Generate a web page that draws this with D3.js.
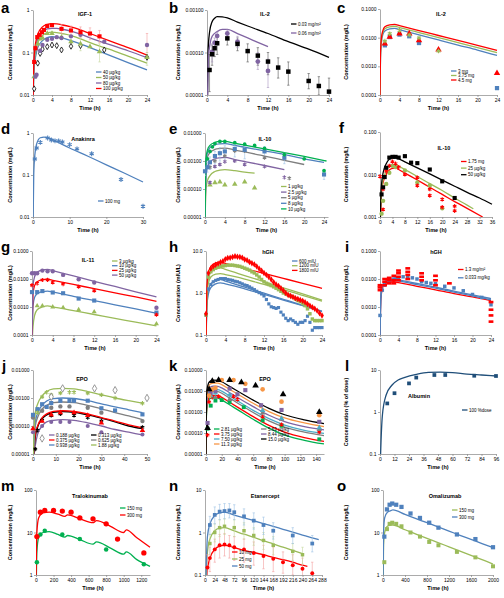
<!DOCTYPE html>
<html><head><meta charset="utf-8">
<script src="https://cdn.jsdelivr.net/npm/d3@7"></script>
<style>body{margin:0;background:#fff}svg{display:block;background:#fff}</style>
</head><body><svg id="c" width="504" height="598"></svg>
<script>
// ---------------- DATA ----------------
const BLUE="#4f81bd", GREEN="#9bbb59", PURPLE="#8064a2", RED="#ff0000", BLACK="#000000", GREY="#7f7f7f", ORANGE="#f79646", TEAL="#4bacc6", NAVY="#1f4e79";

// a: IGF-1
const aTicksX=[0,4,8,12,16,20,24];
const aTicksY=["0.01","0.1","1"];
const aLine40=[[0,0.004],[0.1,0.015],[0.3,0.05],[0.6,0.085],[1,0.13],[2,0.19],[3,0.225],[4,0.235],[5,0.23],[6,0.22],[8,0.19],[10,0.16],[12,0.13],[16,0.087],[20,0.058],[24,0.039]];
const aLine50=[[0,0.005],[0.1,0.02],[0.3,0.065],[0.6,0.11],[1,0.17],[2,0.25],[3,0.29],[4,0.3],[5,0.295],[6,0.28],[8,0.25],[10,0.21],[12,0.17],[16,0.12],[20,0.082],[24,0.056]];
const aLine80=[[0,0.006],[0.1,0.025],[0.3,0.08],[0.6,0.14],[1,0.21],[2,0.31],[3,0.36],[4,0.37],[5,0.37],[6,0.355],[8,0.32],[10,0.27],[12,0.22],[16,0.155],[20,0.11],[24,0.076]];
const aLine100=[[0,0.007],[0.1,0.03],[0.3,0.1],[0.6,0.18],[1,0.27],[2,0.4],[3,0.46],[4,0.48],[5,0.47],[6,0.45],[8,0.4],[10,0.34],[12,0.28],[16,0.19],[20,0.13],[24,0.087]];
const aObs40=[[0.25,0.014],[1,0.056],[1.5,0.095],[2,0.12],[3,0.137],[4,0.15],[5,0.145],[6,0.115],[8,0.14],[10,0.145],[15,0.115],[24,0.077]];
const aObs50=[[0.25,0.027],[1,0.16],[1.5,0.21],[2,0.22],[3,0.28],[4,0.28],[6,0.23],[8,0.18],[10,0.16],[12,0.137],[14,0.105],[24,0.077]];
const aObs80=[[0.5,0.027],[0.75,0.03],[1.5,0.11],[2,0.15],[3,0.2],[4,0.21],[5,0.23],[6,0.22],[8,0.24],[10,0.26],[15,0.18],[24,0.15]];
const aObs100=[[0.25,0.06],[0.5,0.126],[0.9,0.23],[1.4,0.26],[1.9,0.3],[2.3,0.34],[3,0.42],[4,0.44],[6,0.36],[8,0.33],[10,0.3],[12,0.28],[14,0.24]];
const aErr100=[[6,0.36,0.28,0.46],[8,0.33,0.25,0.42],[10,0.3,0.22,0.4],[12,0.28,0.2,0.38],[14,0.24,0.17,0.33],[24,0.15,0.1,0.28]];
const aErr50=[[10,0.16,0.11,0.22],[14,0.105,0.06,0.16],[24,0.077,0.05,0.1]];

// b: IL-2
const bTicksX=[0,4,8,12,16,20,24];
const bTicksY=["0.00001","0.00010","0.00100"];
const bLine003=[[0,0.000001],[0.2,0.0001],[0.5,0.0003],[1,0.00053],[1.5,0.00064],[2,0.0007],[3,0.00069],[4,0.00065],[6,0.00052],[8,0.00042],[12,0.00028],[16,0.00018],[20,0.00012],[24,0.000077]];
const bLine006=[[0,0.000001],[0.3,0.00008],[0.6,0.00016],[1,0.00024],[2,0.00031],[3,0.00035],[4,0.00035],[6,0.000277],[8,0.00022],[10,0.000173],[12,0.000137]];
const bObs003=[[0.5,0.0000388,0.000012,0.00009],[1,0.000091,0.00005,0.00015],[1.5,0.000126,0.00008,0.00018],[2,0.000165,0.00009,0.00025],[4,0.000215,0.00015,0.00029],[6,0.000159,0.00011,0.00022],[8,0.000108,0.00006,0.00016],[10,0.0000845,0.00005,0.00013],[12,0.0000612,0.00003,0.0001],[14,0.0000442,0.000025,0.000075],[16,0.0000355,0.000017,0.00006],[20,0.0000214,0.000014,0.000032],[22,0.0000163,0.00001,0.000027],[24,0.000012,0.000008,0.000025]];
const bObs006=[[1,0.000104,0.00006,0.00016],[1.5,0.00017,0.00012,0.00022],[2,0.000245,0.00018,0.0003],[4,0.00028,0.00022,0.00034],[6,0.00018,0.00013,0.00024],[10,0.0000612,0.00004,0.0001],[12,0.0000368,0.000015,0.00007]];

// c: IL-2
const cTicksX=[0,4,8,12,16,20,24];
const cTicksY=["0.0001","0.0010","0.0100","0.1000"];
const cLine3=[[0,0.0001],[0.1,0.002],[0.3,0.007],[0.6,0.013],[1,0.017],[2,0.0202],[3,0.021],[4,0.019],[6,0.0154],[8,0.0126],[12,0.0083],[16,0.0055],[20,0.0037],[24,0.0024]];
const cLine375=[[0,0.0001],[0.1,0.0025],[0.3,0.0085],[0.6,0.0155],[1,0.0205],[2,0.024],[3,0.025],[4,0.0226],[6,0.0185],[8,0.0151],[12,0.0101],[16,0.0067],[20,0.0045],[24,0.003]];
const cLine45=[[0,0.0001],[0.1,0.003],[0.3,0.01],[0.6,0.018],[1,0.024],[2,0.028],[3,0.029],[4,0.0263],[6,0.0216],[8,0.0177],[12,0.0119],[16,0.008],[20,0.0054],[24,0.0036]];
const cObs3=[[1,0.0054],[2,0.0105],[4,0.0128],[6,0.0112],[8,0.0065],[24,0.000174]];
const cObs375=[[1,0.0076],[2,0.0138],[4,0.018],[6,0.0125],[8,0.0098],[12,0.0034]];
const cObs45=[[1,0.0062],[2,0.0106],[4,0.0139],[6,0.0139],[8,0.008],[12,0.0038],[24,0.00058]];

// d: Anakinra
const dTicksX=[0,10,20,30];
const dTicksY=["0.01","0.1","1"];
const dLine100=[[0,0.005],[0.2,0.1],[0.5,0.3],[1,0.55],[2,0.77],[3,0.8],[4,0.78],[6,0.65],[10,0.44],[15,0.28],[20,0.175],[25,0.11],[30,0.068]];
const dObs100=[[0.5,0.24],[1,0.44],[2,0.6],[4,0.76],[5,0.68],[6,0.65],[7,0.65],[8,0.61],[10,0.53],[12,0.42],[16,0.32],[24,0.078],[30,0.018]];

// e: IL-10
const eTicksX=[0,4,8,12,16,20,24];
const eTicksY=["0.00001","0.00010","0.00100","0.01000"];
const eLine1=[[0,0.000005],[0.2,0.0001],[0.5,0.0002],[1,0.0003],[2,0.00042],[3,0.00047],[4,0.00049],[6,0.00045],[8,0.0004],[10,0.00037]];
const eLine25=[[0,0.000005],[0.2,0.0003],[0.5,0.0006],[1,0.0009],[2,0.0012],[3,0.0013],[4,0.00134],[6,0.00113],[8,0.00096],[12,0.00069],[16,0.00049]];
const eLine5=[[0,0.000005],[0.2,0.0007],[0.5,0.0014],[1,0.002],[2,0.0026],[3,0.0028],[4,0.0029],[6,0.00245],[8,0.0021],[12,0.0015],[16,0.00106],[20,0.00075]];
const eLine8=[[0,0.000005],[0.2,0.001],[0.5,0.002],[1,0.003],[2,0.0038],[3,0.0041],[4,0.0042],[6,0.0036],[8,0.0031],[12,0.0023],[16,0.0017],[20,0.0012],[24,0.00089]];
const eLine10=[[0,0.000005],[0.2,0.0012],[0.5,0.0025],[1,0.0036],[2,0.0046],[3,0.005],[4,0.005],[6,0.0043],[8,0.0037],[12,0.0027],[16,0.002],[20,0.00145],[24.5,0.001]];
const eObs1=[[1,0.00014],[2,0.00017],[3,0.00018],[4,0.00014],[6,0.00015],[8,0.00018],[10,0.00011]];
const eObs25=[[1,0.00017],[2,0.00064],[3,0.00075],[4,0.00095],[6,0.001],[8,0.00075],[12,0.00063],[16,0.00026]];
const eObs5=[[1,0.0006],[2,0.001],[4,0.0015],[6,0.0023],[8,0.0023],[12,0.0013],[17,0.00024]];
const eObs8=[[0,0.00043,0.0003,0.0006],[0.5,0.0006,0.0004,0.0009],[1,0.0009,0.0005,0.0014],[2,0.0015,0.0008,0.0022],[3,0.0019,0.001,0.003],[4,0.0022,0.0012,0.0035],[6,0.0027,0.0014,0.004],[8,0.0025,0.0012,0.0038],[12,0.0022,0.0013,0.0033],[16,0.0013,0.0008,0.0019],[24,0.00033,0.00022,0.00045]];
const eObs10=[[0.5,0.0012],[1,0.0022],[1.5,0.0032],[2,0.0042],[3,0.005],[4,0.005],[6,0.0045],[8,0.004],[10,0.0036],[12,0.0028],[16,0.0017],[20,0.0012],[24,0.00045]];

// f: IL-10
const fTicksX=[0,4,8,12,16,20,24,28,32,36];
const fTicksY=["0.001","0.010","0.100"];
const fLine175=[[0,0.0005],[0.3,0.002],[0.6,0.0045],[1,0.0065],[2,0.01],[3,0.0128],[4,0.014],[5,0.0143],[6,0.0131],[8,0.0108],[12,0.0074],[16,0.005],[20,0.0034],[24,0.0023],[28,0.0016],[33,0.001]];
const fLine25=[[0,0.0005],[0.3,0.0025],[0.6,0.005],[1,0.0075],[2,0.012],[3,0.0155],[4,0.017],[5,0.0174],[6,0.0158],[8,0.0131],[12,0.009],[16,0.0061],[20,0.0042],[24,0.0028],[28,0.0019],[30,0.00156]];
const fLine50=[[0,0.0005],[0.3,0.0035],[0.6,0.007],[1,0.011],[2,0.018],[3,0.023],[4,0.0252],[5,0.0256],[6,0.0235],[8,0.0199],[12,0.0143],[16,0.0103],[20,0.0074],[24,0.0053],[28,0.0038],[32,0.0028],[36,0.002]];
const fObs175=[[0,0.009],[1,0.0015],[1,0.0045],[2,0.012],[3,0.016],[4,0.02],[5,0.018],[6,0.015],[8,0.01],[12,0.0085],[12,0.0055],[16,0.0045],[16,0.0032],[20,0.0026],[20,0.0017],[24,0.0018],[24,0.0014]];
const fObs25=[[0.5,0.0012],[1,0.0024],[2,0.006],[3,0.011],[4,0.016],[5,0.015],[8,0.0125],[12,0.0065],[16,0.0055],[20,0.0016]];
const fObs50=[[0.5,0.0034],[1,0.005],[1.5,0.0087],[2,0.0144],[3,0.025],[4,0.026],[5,0.026],[6,0.025],[8,0.027],[10,0.019],[12,0.0185],[16,0.0131],[20,0.0069],[24,0.0028]];

// g: IL-11
const gTicksX=[0,4,8,12,16,20,24];
const gTicksY=["0.0001","0.0010","0.0100","0.1000"];
const gLine3=[[0,0.00005],[0.2,0.0002],[0.5,0.0005],[1,0.0008],[2,0.001],[3,0.0011],[4,0.00101],[6,0.00087],[8,0.00074],[12,0.00054],[16,0.00039],[20,0.00029],[24,0.00021]];
const gLine10=[[0,0.00005],[0.2,0.0011],[0.5,0.0022],[1,0.003],[2,0.0035],[3,0.0037],[4,0.0034],[6,0.0029],[8,0.0024],[12,0.0017],[16,0.0012],[20,0.00085],[24,0.0006]];
const gLine25=[[0,0.00005],[0.2,0.003],[0.5,0.0058],[1,0.008],[2,0.0095],[3,0.0099],[4,0.009],[6,0.0076],[8,0.0064],[12,0.0045],[16,0.0032],[20,0.0023],[24,0.0016]];
const gLine50=[[0,0.00005],[0.2,0.006],[0.5,0.012],[1,0.017],[2,0.021],[3,0.022],[4,0.0198],[6,0.016],[8,0.0129],[12,0.0083],[16,0.0054],[20,0.0035],[24,0.0023]];
const gObs3=[[1,0.0011],[2,0.0011],[4,0.001],[6,0.00095],[9,0.0008],[12,0.00067],[24,0.00025]];
const gObs10=[[0,0.0034],[1,0.0034],[2,0.0037],[4,0.0033],[6,0.0031],[9,0.002],[12,0.0017],[24,0.00063]];
const gObs25=[[0,0.006],[1,0.007],[2,0.0092],[3,0.0093],[4,0.0075],[6,0.0066],[9,0.0053],[12,0.0038],[24,0.00053]];
const gObs50=[[0,0.016],[0.5,0.016],[1,0.016],[2,0.02],[3,0.019],[4,0.019],[6,0.014],[9,0.0098],[12,0.0075],[24,0.00094]];

// h: hGH (mIU/L)
const hTicksX=[0,4,8,12,16,20,24];
const hTicksY=["0.1","1.0","10.0"];
const hLine600a=[[0,0.05],[0.2,0.7],[0.5,1.2],[1,1.65],[2,2.0],[3,2.1],[4,1.93],[6,1.63],[8,1.38],[12,0.99],[16,0.71],[20,0.51],[24,0.37]];
const hLine600b=[[0,0.05],[0.2,0.5],[0.5,0.95],[1,1.35],[2,1.65],[3,1.75],[4,1.65],[6,1.45],[8,1.25],[12,0.93],[16,0.68],[20,0.5],[24,0.36]];
const hLine1200a=[[0,0.05],[0.2,1.1],[0.5,2.2],[1,3.1],[2,3.8],[3,3.97],[4,3.65],[6,3.08],[8,2.6],[12,1.86],[16,1.33],[20,0.95],[24,0.68]];
const hLine1200b=[[0,0.05],[0.2,0.9],[0.5,1.7],[1,2.4],[2,2.8],[3,2.9],[4,2.75],[6,2.45],[8,2.15],[12,1.6],[16,1.2],[20,0.88],[24,0.64]];
const hLine1800=[[0,0.05],[0.2,1.5],[0.5,3],[1,4.3],[2,5.2],[3,5.4],[4,5.04],[6,4.4],[8,3.83],[12,2.92],[16,2.23],[20,1.7],[24,1.29]];
const hTimes=[0,0.5,1,1.5,2,2.5,3,3.5,4,4.5,5,5.5,6,6.5,7,7.5,8,8.5,9,9.5,10,10.5,11,11.5,12,12.5,13,13.5,14,14.5,15,15.5,16,16.5,17,17.5,18,18.5,19,19.5,20,20.5,21,21.5,22,22.5,23,23.5,24];
const hObs600=[0.3,1.25,1.6,1.85,2.0,2.1,2.2,2.2,2.2,2.1,2.05,2.0,1.9,1.85,1.75,1.65,1.55,1.5,1.4,1.3,1.2,1.1,1.02,0.95,0.85,0.7,0.55,0.47,0.45,0.43,0.45,0.35,0.3,0.25,0.22,0.24,0.22,0.2,0.18,0.2,0.2,0.22,0.28,0.2,0.13,0.15,0.15,0.15,0.15];
const hObs1200=[0.3,2.4,3.2,3.6,3.9,4.1,4.3,4.4,4.5,4.6,4.6,4.6,4.5,4.4,4.3,4.1,3.9,3.7,3.5,3.2,3.0,2.7,2.4,2.1,1.85,1.7,1.6,1.5,1.4,1.3,1.2,1.1,1.0,0.95,0.9,0.85,0.8,0.72,0.66,0.62,0.56,0.5,0.42,0.32,0.24,0.22,0.22,0.22,0.22];
const hObs1800=[0.32,3.0,3.8,4.3,4.7,5.0,5.4,5.7,6.4,6.8,6.9,7.2,7.5,7.3,7.2,6.9,6.3,6.0,5.5,5.1,4.8,4.3,3.8,3.4,3.0,2.7,2.4,2.1,1.8,1.6,1.46,1.3,1.15,1.0,0.9,0.85,0.8,0.75,0.72,0.68,0.65,0.6,0.55,0.5,0.46,0.42,0.38,0.33,0.29];

// i: hGH (mg/L)
const iTicksX=[0,4,8,12,16,20,24];
const iTicksY=["0.0001","0.0010","0.0100","0.1000"];
const iLine13=[[0,0.0001],[0.2,0.002],[0.5,0.0045],[1,0.0065],[2,0.0078],[3,0.008],[4,0.0074],[6,0.0064],[8,0.0055],[12,0.0041],[16,0.003],[20,0.0023],[24,0.0017]];
const iLine033a=[[0,0.0001],[0.2,0.0025],[0.5,0.0055],[1,0.008],[2,0.0097],[3,0.01],[4,0.0093],[6,0.008],[8,0.0069],[12,0.0051],[16,0.0037],[20,0.0027],[24,0.002]];
const iLine033b=[[0,0.0001],[0.2,0.0022],[0.5,0.005],[1,0.0073],[2,0.0088],[3,0.0091],[4,0.0085],[6,0.0074],[8,0.0063],[12,0.0047],[16,0.0034],[20,0.0025],[24,0.0018]];
const iObs13=[[0,0.004],[0,0.005],[0,0.006],[1,0.006],[1,0.008],[1,0.01],[2,0.007],[2,0.009],[2,0.011],[3,0.007],[3,0.009],[3,0.013],[4,0.009],[4,0.012],[4,0.016],[4,0.02],[6,0.01],[6,0.014],[6,0.018],[6,0.024],[9,0.009],[9,0.012],[9,0.016],[12,0.006],[12,0.009],[12,0.013],[15,0.007],[24,0.0003],[24,0.0005],[24,0.0008],[24,0.0015]];
const iObs033=[[0,0.0005],[0.5,0.004],[1,0.006],[2,0.009],[3,0.01],[3.5,0.011],[4,0.011],[5,0.012],[6,0.012],[7,0.011],[8,0.01],[9,0.008],[10,0.0075],[11,0.007],[12,0.0068],[14,0.0055],[16,0.0048],[18,0.0038],[20,0.0028],[22,0.0022],[24,0.0012]];

// j: EPO (1)
const jTicksX=[0,10,20,30,40,50];
const jTicksY=["0.00001","0.00010","0.00100","0.01000"];
const jLine0188=[[0,0.000005],[1,0.00002],[2,0.00005],[4,0.0001],[6,0.00014],[9,0.00016],[13,0.00017],[18,0.00016],[24,0.00013],[30,0.0001],[36,0.000075],[42,0.00006],[48,0.000048]];
const jLine0313=[[0,0.000005],[1,0.00004],[2,0.00009],[4,0.00018],[6,0.00025],[9,0.00031],[13,0.00033],[18,0.00031],[24,0.00025],[30,0.00019],[36,0.00014],[42,0.0001],[48,0.00008]];
const jLine0375=[[0,0.000005],[1,0.00005],[2,0.0001],[4,0.0002],[6,0.00027],[9,0.00033],[13,0.00035],[18,0.00033],[24,0.00027],[30,0.0002],[36,0.00015],[42,0.00011],[48,0.000086]];
const jLine0625=[[0,0.000005],[1,0.0001],[2,0.0002],[4,0.0004],[6,0.00055],[9,0.00068],[13,0.00072],[18,0.00068],[24,0.00055],[30,0.00041],[36,0.0003],[42,0.00023],[48,0.00017]];
const jLine0938=[[0,0.000005],[1,0.00014],[2,0.00028],[4,0.00055],[6,0.00078],[9,0.00095],[13,0.001],[18,0.00096],[24,0.0008],[30,0.00062],[36,0.00048],[42,0.00038],[48,0.0003]];
const jLine188=[[0,0.000005],[1,0.0003],[2,0.0006],[4,0.0012],[6,0.0017],[9,0.0021],[13,0.0022],[18,0.0021],[24,0.0017],[30,0.0013],[36,0.001],[42,0.0008],[48,0.00065]];
const jObs0188=[[0,0.00006],[4,0.0001],[8,0.00014],[12,0.00014],[16,0.00014],[24,0.0001],[30,0.00006],[48,0.00005]];
const jObs0313=[[1,0.000015],[2,0.00007],[4,0.00016],[8,0.00024],[12,0.00027],[18,0.00024],[24,0.0002],[30,0.00015],[48,0.00009]];
const jObs0375=[[0,0.00008],[4,0.00015],[8,0.00025],[12,0.0003],[18,0.0003],[24,0.00024],[30,0.00013],[48,0.00007]];
const jObs0625=[[0,0.0002],[4,0.00035],[8,0.00045],[12,0.0005],[16,0.0005],[24,0.00045],[30,0.0003],[48,0.00015]];
const jObs0938=[[0,0.00025],[2,0.0004],[4,0.0006],[6,0.00048],[8,0.00066],[12,0.0008],[16,0.0008],[18,0.0008],[24,0.0008],[30,0.00043],[36,0.00036],[48,0.00026]];
const jObs188=[[2,0.0003],[4,0.0011],[6,0.0016],[8,0.0013],[12,0.0015],[16,0.0016],[18,0.0016],[24,0.0015],[30,0.0013],[36,0.001],[48,0.00065]];
const jObsAlt=[[4,0.000036],[8,0.0011],[13,0.0022],[27,0.0022],[36,0.0019],[50,0.001]];

// k: EPO (2)
const kTicksX=[0,20,40,60,80,100,120,140];
const kTicksY=["0.00001","0.00010","0.00100","0.01000","0.10000"];
const kLine281=[[0,0.000002],[0.5,0.0006],[2,0.0024],[5,0.0043],[10,0.0048],[15,0.0046],[20,0.0038],[30,0.0022],[40,0.0013],[60,0.00045],[80,0.00017],[100,0.00008],[125,0.000045],[150,0.00003]];
const kLine375=[[0,0.000002],[0.5,0.0008],[2,0.0031],[5,0.0055],[10,0.0062],[15,0.006],[20,0.005],[30,0.0029],[40,0.0017],[60,0.0006],[80,0.00023],[100,0.00011],[125,0.00006],[150,0.00004]];
const kLine563=[[0,0.000002],[0.5,0.0012],[2,0.0047],[5,0.0085],[10,0.0095],[15,0.0093],[20,0.0078],[30,0.0046],[40,0.0027],[60,0.00095],[80,0.00038],[100,0.00019],[125,0.00011],[150,0.000075]];
const kLine750=[[0,0.000002],[0.5,0.0015],[2,0.006],[5,0.0107],[10,0.012],[15,0.0117],[20,0.0099],[30,0.0058],[40,0.0034],[60,0.0012],[80,0.00048],[100,0.00024],[125,0.000135],[150,0.000095]];
const kLine844=[[0,0.000002],[0.5,0.0021],[2,0.0085],[5,0.015],[10,0.017],[15,0.0165],[20,0.014],[30,0.0083],[40,0.0049],[60,0.0018],[80,0.0007],[100,0.00035],[125,0.0002],[150,0.00014]];
const kLine113=[[0,0.000002],[0.5,0.003],[2,0.012],[5,0.021],[10,0.024],[15,0.0235],[20,0.02],[30,0.012],[40,0.0072],[60,0.0026],[80,0.00105],[100,0.00052],[125,0.0003],[150,0.0002]];
const kLine150=[[0,0.000002],[0.5,0.0042],[2,0.0165],[5,0.029],[10,0.033],[15,0.032],[20,0.0275],[30,0.0165],[40,0.01],[60,0.0037],[80,0.0015],[100,0.00074],[125,0.00042],[150,0.00028]];
const kObs281=[[2,0.00016],[6,0.002],[12,0.0035],[20,0.0037],[30,0.003],[48,0.0017],[72,0.0004],[96,0.00022],[144,0.00005]];
const kObs375=[[2,0.00008],[4,0.003],[8,0.005],[16,0.0055],[35,0.0055],[40,0.004],[72,0.0006],[96,0.00025],[144,0.00011]];
const kObs563=[[12,0.005],[30,0.004],[72,0.0009],[96,0.00045],[144,0.00015]];
const kObs750=[[6,0.006],[12,0.008],[30,0.0065],[72,0.0012],[96,0.0005],[144,0.00018]];
const kObs844=[[2,0.0003],[6,0.008],[12,0.01],[30,0.013],[40,0.007],[50,0.011],[70,0.0021],[96,0.00125],[144,0.00034]];
const kObs113=[[4,0.006],[8,0.012],[12,0.014],[20,0.033],[35,0.033],[50,0.022],[72,0.012],[96,0.0031],[144,0.0007]];
const kObs150=[[2,0.00017],[4,0.012],[8,0.03],[16,0.033],[30,0.033],[45,0.026],[63,0.018],[98,0.0069],[144,0.001]];

// l: Albumin
const lTicksX=[0,12,24,36,48,60,72,84,96];
const lTicksY=["0.1","1","10"];
const lLine100=[[0,0.03],[0.5,0.1],[2,0.85],[5,2.5],[10,4.4],[15,5.8],[20,6.6],[30,7.9],[40,8.8],[50,8.9],[60,8.7],[72,8.0],[84,7.6],[96,7.2]];
const lObs100=[[6,1.6],[12,2.8],[24,4.8],[30,6.6],[45,7.6],[54,7.6],[78,7.3],[96,7.2]];

// m: Tralokinumab
const mTicksX=[0,200,400,600,800,1000,1200];
const mTicksY=["1","10","100"];
const mLine150=[[0,0.2],[10,3.5],[30,7.5],[80,10],[150,10.5],[250,9],[330,7.8],[360,8.5],[500,6.8],[650,5.3],[690,6],[850,4.3],[1000,3.1],[1030,3.5],[1150,2.3],[1300,1.6]];
const mLine300=[[0,0.5],[10,10],[30,22],[80,29],[150,30],[250,27],[330,24],[360,26],[500,21],[650,17],[690,19],[850,14],[1000,10],[1030,11.5],[1150,7.5],[1300,4.5]];
const mObs150=[[10,2],[50,9],[100,11],[300,9],[500,7],[800,4],[1230,1.8]];
const mObs300=[[10,8],[50,30],[100,33],[200,33],[300,32],[400,30],[500,22],[650,21],[800,16],[930,7],[1230,3.3]];

// n: Etanercept
const nTicksX=[0,24,48,72,96,120,144,168,192,216,240,264,288];
const nTicksY=["0.1","1","10"];
const nLine10=[[0,0.01],[6,0.13],[12,0.25],[24,0.4],[36,0.48],[48,0.5],[72,0.44],[96,0.38],[120,0.34],[144,0.3],[168,0.26],[192,0.23],[216,0.2],[240,0.17],[252,0.16]];
const nLine25=[[0,0.01],[6,0.35],[12,0.7],[24,1.1],[36,1.27],[48,1.3],[72,1.09],[96,0.91],[120,0.77],[144,0.64],[168,0.54],[192,0.45],[216,0.38],[240,0.32]];
const nLine50=[[0,0.01],[6,0.8],[12,1.6],[24,2.5],[36,2.9],[48,3.0],[72,2.57],[96,2.2],[120,1.9],[144,1.62],[168,1.39],[192,1.19],[216,1.02],[240,0.87],[264,0.75],[280,0.68]];
const nObs10=[[6,0.15,0.08,0.3],[12,0.25,0.12,0.45],[24,0.4,0.2,0.7],[36,0.5,0.25,0.9],[48,0.52,0.28,0.95],[60,0.5,0.25,0.85],[72,0.45,0.22,0.8],[96,0.4,0.2,0.7],[120,0.33,0.17,0.6],[144,0.28,0.14,0.5],[168,0.24,0.12,0.45],[192,0.2,0.11,0.35],[216,0.17,0.1,0.3],[240,0.14,0.09,0.25],[264,0.11,0.07,0.2]];
const nObs25=[[12,0.55,0.3,0.9],[24,1.0,0.6,1.6],[36,1.3,0.8,2.0],[48,1.4,0.9,2.1],[72,1.3,0.8,2.0],[96,1.1,0.7,1.7],[120,0.85,0.5,1.3],[144,0.65,0.4,1.0],[168,0.5,0.3,0.8],[216,0.36,0.22,0.55],[240,0.3,0.18,0.45]];
const nObs50=[[12,1.5,0.9,2.4],[24,2.6,1.6,4.0],[36,3.1,2.0,4.6],[48,3.2,2.1,4.8],[60,3.3,2.2,4.8],[72,3.0,2.0,4.5],[96,2.4,1.5,3.6],[120,1.9,1.2,2.9],[144,1.5,0.9,2.3],[168,1.1,0.7,1.7],[216,0.85,0.55,1.3],[264,0.55,0.35,0.85]];

// o: Omalizumab
const oTicksX=[0,400,800,1200,1600,2000];
const oTicksY=["1","10","100"];
const oLine150=[[0,0.3],[10,5],[30,10],[80,14],[150,15],[180,15],[400,11.6],[600,9.2],[800,7.3],[1000,5.8],[1200,4.6],[1400,3.65],[1600,2.9],[1800,2.3],[2000,1.8]];
const oLine300=[[0,0.5],[10,10],[30,22],[80,30],[150,33],[180,34],[400,26.6],[600,21.2],[800,17],[1000,13.5],[1200,10.8],[1400,8.6],[1600,6.9],[1800,5.5],[2000,4.4]];
const oObs150=[[24,2],[72,12],[120,16],[168,17],[240,16],[336,14],[500,10],[672,8],[840,6],[1008,5],[1344,3.5],[1680,2.6],[2000,1.6]];
const oObs300=[[24,8],[72,35],[120,45],[168,48],[240,45],[336,40],[500,28],[672,22],[840,17],[1008,13],[1344,9],[1680,7],[2000,4.5]];

// ---------------- DRAWING ----------------
const FONT="'Liberation Sans', Arial, Helvetica, sans-serif";
const svg=d3.select("#c");
const ASTER = d3.symbolAsterisk || d3.symbolCross;

function markerPath(shape,size){
  const m={square:d3.symbolSquare,circle:d3.symbolCircle,triangle:d3.symbolTriangle,diamond:d3.symbolDiamond,odiamond:d3.symbolDiamond,star:ASTER,cross:d3.symbolCross,rect:d3.symbolSquare};
  return d3.symbol(m[shape]||d3.symbolCircle,size)();
}

const C="Concentration (mg/L)";
const panels=[
 {id:"a",ox:0,lx:1,ly:13,L:33,R:147,T:10,B:95,xMax:24,xt:aTicksX,yt:aTicksY,title:"IGF-1",tx:85,ty:16,yl:C,
  lines:[[aLine40,BLUE],[aLine50,GREEN],[aLine80,PURPLE],[aLine100,RED]],
  errs:[[aErr100,"#f4a0a0"],[aErr50,"#c6d9a0"]],
  pts:[[aObs40,"#fff","odiamond",10,"#000"],[aObs50,GREEN,"triangle",13],[aObs80,PURPLE,"circle",15],[aObs100,RED,"square",17]],
  leg:{x:[96],y:72,dy:5.5,items:[["40 µg/kg",BLUE],["50 µg/kg",GREEN],["80 µg/kg",PURPLE],["100 µg/kg",RED]]}},
 {id:"b",ox:168,lx:169,ly:13,L:207,R:329,T:10,B:95,xMax:24,xt:bTicksX,yt:bTicksY,title:"IL-2",tx:265,ty:16,yl:C,
  lines:[[bLine003,BLACK],[bLine006,PURPLE]],
  errs:[[bObs003,"#555"],[bObs006,"#a896c0"]],
  pts:[[bObs006,PURPLE,"circle",18],[bObs003,BLACK,"square",20]],
  leg:{x:[291],y:24,dy:9,items:[["0.03 mg/m²",BLACK],["0.06 mg/m²",PURPLE]]}},
 {id:"c",ox:336,lx:337,ly:13,L:380,R:497,T:9,B:95,xMax:24,xt:cTicksX,yt:cTicksY,title:"IL-2",tx:441,ty:16,yl:C,
  lines:[[cLine3,BLUE],[cLine375,GREEN],[cLine45,RED]],errs:[],
  pts:[[cObs3,BLUE,"square",18],[cObs45,RED,"triangle",18],[cObs375,GREEN,"star",14]],
  leg:{x:[451],y:71,dy:4.5,items:[["3 mg",BLUE],["3.75 mg",GREEN],["4.5 mg",RED]]}},
 {id:"d",ox:0,lx:1,L:33,R:143,T:133,B:217,xMax:30,xt:dTicksX,yt:dTicksY,title:"Anakinra",tx:83,ty:141,yl:C,
  lines:[[dLine100,BLUE]],errs:[],
  pts:[[dObs100,BLUE,"star",16]],
  leg:{x:[98],y:201,dy:5,items:[["100 mg",BLUE]]}},
 {id:"e",ox:168,lx:169,L:205,R:328,T:133,B:217,xMax:24.8,xt:eTicksX,yt:eTicksY,title:"IL-10",tx:265,ty:141,yl:C,
  lines:[[eLine1,GREEN],[eLine25,PURPLE],[eLine5,GREY],[eLine8,BLUE],[eLine10,"#00b050"]],
  errs:[[eObs8,"#9dc3e6"]],
  pts:[[eObs1,GREEN,"triangle",13],[eObs25,PURPLE,"star",11],[eObs5,GREY,"star",11],[eObs8,BLUE,"square",17],[eObs10,"#00b050","circle",11]],
  leg:{x:[281],y:186.5,dy:5.6,items:[["1 µg/kg",GREEN],["2.5 µg/kg",PURPLE],["5 µg/kg",GREY],["8 µg/kg",BLUE],["10 µg/kg","#00b050"]]}},
 {id:"f",ox:336,lx:339,L:380,R:492,T:132,B:217,xMax:36,xt:fTicksX,yt:fTicksY,title:"IL-10",tx:444,ty:150,yl:C,
  lines:[[fLine175,RED],[fLine25,GREEN],[fLine50,BLACK]],errs:[],
  pts:[[fObs25,GREEN,"circle",15],[fObs175,RED,"star",12],[fObs50,BLACK,"square",17]],
  leg:{x:[461],y:161.5,dy:6.6,items:[["1.75 mg",RED],["25 µg/kg",GREEN],["50 µg/kg",BLACK]]}},
 {id:"g",ox:0,lx:1,L:32,R:158,T:251,B:335,xMax:24.3,xt:gTicksX,yt:gTicksY,title:"IL-11",tx:88,ty:262,yl:C,
  lines:[[gLine3,GREEN],[gLine10,BLUE],[gLine25,RED],[gLine50,PURPLE]],errs:[],
  pts:[[gObs3,GREEN,"triangle",11],[gObs10,BLUE,"square",17],[gObs25,RED,"star",12],[gObs50,PURPLE,"circle",15]],
  leg:{x:[112],y:261,dy:4.7,items:[["3 µg/kg",GREEN],["10 µg/kg",BLUE],["25 µg/kg",RED],["50 µg/kg",PURPLE]]}},
 {id:"h",ox:168,lx:169,L:206,R:322,T:251,B:335,xMax:24,xt:hTicksX,yt:hTicksY,title:"hGH",tx:268,ty:254,yl:"Concentration (mIU/L)",
  lines:[[hLine600a,BLUE],[hLine600b,BLUE],[hLine1200a,GREEN],[hLine1200b,GREEN],[hLine1800,RED]],errs:[],
  pts:[[hTimes.map((t,i)=>[t,hObs600[i]]),BLUE,"square",10],[hTimes.map((t,i)=>[t,hObs1200[i]]),GREEN,"square",12],[hTimes.map((t,i)=>[t,hObs1800[i]]),RED,"diamond",12]],
  leg:{x:[292],y:261,dy:4.7,items:[["600 mIU",BLUE],["1200 mIU",GREEN],["1800 mIU",RED]]}},
 {id:"i",ox:336,lx:345,L:380,R:491,T:251,B:335,xMax:24,xt:iTicksX,yt:iTicksY,title:"hGH",tx:436,ty:254,yl:C,
  lines:[[iLine13,RED],[iLine033a,BLUE],[iLine033b,BLUE]],errs:[],
  pts:[[iObs033,BLUE,"square",12],[iObs13,RED,"rect",14]],
  leg:{x:[458],y:269.5,dy:8.3,items:[["1.3 mg/m²",RED],["0.033 mg/kg",BLUE]]}},
 {id:"j",ox:0,lx:2,L:33,R:147,T:370,B:454,xMax:50,xt:jTicksX,yt:jTicksY,title:"EPO",tx:82,ty:381,yl:C,
  lines:[[jLine0188,PURPLE],[jLine0313,BLACK],[jLine0375,RED],[jLine0625,GREY],[jLine0938,BLUE],[jLine188,GREEN]],errs:[],
  pts:[[jObs0188,PURPLE,"circle",13],[jObs0313,BLACK,"star",12],[jObs0375,RED,"triangle",13],[jObs0625,GREY,"circle",15],[jObs0938,BLUE,"square",17],[jObs188,GREEN,"star",13],[jObsAlt,"#fff","odiamond",16,GREY]],
  leg:{x:[49,91],y:435,dy:5,items:[["0.188 µg/kg",PURPLE,0,0],["0.313 µg/kg",BLACK,1,0],["0.375 µg/kg",RED,0,1],["0.625 µg/kg",GREY,1,1],["0.938 µg/kg",BLUE,0,2],["1.88 µg/kg",GREEN,1,2]]}},
 {id:"k",ox:168,lx:169,L:206,R:324,T:370,B:454,xMax:150,xt:kTicksX,yt:kTicksY,title:"EPO",tx:265,ty:381,yl:C,
  lines:[[kLine281,"#00b050"],[kLine375,RED],[kLine563,GREY],[kLine750,TEAL],[kLine844,PURPLE],[kLine113,ORANGE],[kLine150,BLACK]],errs:[],
  pts:[[kObs281,"#00b050","square",15],[kObs375,RED,"star",12],[kObs563,GREY,"triangle",13],[kObs750,TEAL,"triangle",13],[kObs844,PURPLE,"square",17],[kObs113,ORANGE,"circle",17],[kObs150,BLACK,"triangle",19]],
  leg:{x:[214,261],y:429,dy:5,items:[["2.81 µg/kg","#00b050",0,0],["5.63 µg/kg",GREY,1,0],["3.75 µg/kg",RED,0,1],["8.44 µg/kg",PURPLE,1,1],["7.50 µg/kg",TEAL,0,2],["15.0 µg/kg",BLACK,1,2],["11.3 µg/kg",ORANGE,0,3]]}},
 {id:"l",ox:336,lx:345,L:380,R:496,T:370,B:454,xMax:96,xt:lTicksX,yt:lTicksY,title:"Albumin",tx:419,ty:398,yl:"Concentration (% of dose)",
  lines:[[lLine100,NAVY]],errs:[],
  pts:[[lObs100,NAVY,"square",14]],
  leg:{x:[462],y:410,dy:5,items:[["100 %dose",NAVY]]}},
 {id:"m",ox:0,lx:1,L:36,R:150,T:490,B:575,xMax:1300,xt:mTicksX,yt:mTicksY,title:"Tralokinumab",tx:90,ty:498,yl:C,
  lines:[[mLine150,"#00b050"],[mLine300,RED]],errs:[],
  pts:[[mObs150,"#00b050","circle",16],[mObs300,RED,"circle",22]],
  leg:{x:[120],y:508,dy:7,items:[["150 mg","#00b050"],["300 mg",RED]]}},
 {id:"n",ox:168,lx:169,L:205,R:322,T:490,B:575,xMax:288,xt:nTicksX,yt:nTicksY,title:"Etanercept",tx:265,ty:498,yl:C,
  lines:[[nLine10,RED],[nLine25,GREEN],[nLine50,BLUE]],
  errs:[[nObs10,"#f4a0a0"],[nObs25,"#c6d9a0"],[nObs50,"#9dc3e6"]],
  pts:[[nObs10,RED,"circle",12],[nObs25,GREEN,"square",12],[nObs50,BLUE,"square",14]],
  leg:{x:[232],y:552,dy:7,items:[["10 mg",RED],["25 mg",GREEN],["50 mg",BLUE]]}},
 {id:"o",ox:336,lx:337,L:383,R:493,T:490,B:575,xMax:2000,xt:oTicksX,yt:oTicksY,title:"Omalizumab",tx:445,ty:498,yl:C,
  lines:[[oLine150,GREEN],[oLine300,BLUE]],errs:[],
  pts:[[oObs150,GREEN,"square",16],[oObs300,BLUE,"square",18]],
  leg:{x:[452],y:510,dy:7,items:[["150 mg",GREEN],["300 mg",BLUE]]}}
];

const defs=svg.append("defs");
panels.forEach(p=>{
  const g=svg.append("g");
  const yLo=+p.yt[0], yHi=+p.yt[p.yt.length-1];
  const x=d3.scaleLinear().domain([0,p.xMax]).range([p.L,p.R]);
  const y=d3.scaleLog().domain([yLo,yHi]).range([p.B,p.T]);
  defs.append("clipPath").attr("id","cl"+p.id).append("rect")
    .attr("x",p.L).attr("y",p.T-1).attr("width",p.R-p.L+3).attr("height",p.B-p.T+1);
  const fmt=d=>{const s=p.yt.find(l=>Math.abs(+l/d-1)<1e-6);return s||"";};
  const xa=g.append("g").attr("transform",`translate(0,${p.B})`)
    .call(d3.axisBottom(x).tickValues(p.xt).tickFormat(d3.format("d")).tickSize(2).tickSizeOuter(0).tickPadding(1.5));
  const ya=g.append("g").attr("transform",`translate(${p.L},0)`)
    .call(d3.axisLeft(y).tickValues(p.yt.map(Number)).tickFormat(fmt).tickSize(2).tickSizeOuter(0).tickPadding(1.5));
  [xa,ya].forEach(a=>{
    a.selectAll("path,line").attr("stroke","#868686").attr("stroke-width",0.7);
    a.selectAll("text").attr("font-size",5).attr("font-family",FONT).attr("fill","#000");
  });
  const plot=g.append("g").attr("clip-path",`url(#cl${p.id})`);
  const line=d3.line().x(d=>x(d[0])).y(d=>y(Math.max(d[1],yLo*0.01))).curve(d3.curveMonotoneX);
  p.lines.forEach(([data,col])=>{
    plot.append("path").datum(data).attr("d",line).attr("fill","none").attr("stroke",col).attr("stroke-width",1.3);
  });
  p.errs.forEach(([data,col])=>{
    plot.append("g").selectAll("g").data(data).join("g").each(function(d){
      const s=d3.select(this), xx=x(d[0]);
      s.append("line").attr("x1",xx).attr("x2",xx).attr("y1",y(d[2])).attr("y2",y(d[3])).attr("stroke",col).attr("stroke-width",0.6);
      [d[2],d[3]].forEach(v=>s.append("line").attr("x1",xx-1.2).attr("x2",xx+1.2).attr("y1",y(v)).attr("y2",y(v)).attr("stroke",col).attr("stroke-width",0.6));
    });
  });
  p.pts.forEach(([data,col,shape,size,stroke])=>{
    const sel=g.append("g").selectAll("path").data(data.filter(d=>d[1]>=yLo&&d[1]<=yHi)).join("path")
      .attr("d",shape==="rect"?null:markerPath(shape,size))
      .attr("transform",d=>`translate(${x(d[0])},${y(d[1])})`);
    if(shape==="rect"){sel.attr("d","M-2.4,-1.3h4.8v2.6h-4.8z").attr("fill",col);}
    else if(shape==="star"){sel.attr("fill","none").attr("stroke",col).attr("stroke-width",1.1);}
    else if(shape==="odiamond"){sel.attr("fill","#fff").attr("stroke",stroke||"#000").attr("stroke-width",0.8);}
    else sel.attr("fill",col);
  });
  // panel letter
  svg.append("text").attr("x",p.lx).attr("y",p.ly||p.T+1).text(p.id)
    .attr("font-family",FONT).attr("font-weight","bold").attr("font-size",15).attr("fill","#000");
  // title
  svg.append("text").attr("x",p.tx).attr("y",p.ty).attr("text-anchor","middle").text(p.title)
    .attr("font-family",FONT).attr("font-weight","bold").attr("font-size",5.5).attr("fill","#000");
  // axis titles
  svg.append("text").attr("x",(p.L+p.R)/2).attr("y",p.B+15).attr("text-anchor","middle").text("Time (h)")
    .attr("font-family",FONT).attr("font-weight","bold").attr("font-size",5.5);
  svg.append("text").attr("transform",`translate(${p.ox+12},${(p.T+p.B)/2}) rotate(-90)`).attr("text-anchor","middle").text(p.yl)
    .attr("font-family",FONT).attr("font-weight","bold").attr("font-size",5.5);
  // legend
  const lg=p.leg;
  lg.items.forEach((it,i)=>{
    const col=it.length>2?it[2]:0, row=it.length>3?it[3]:i;
    const lx=lg.x[col], ly=lg.y+row*lg.dy;
    svg.append("line").attr("x1",lx).attr("x2",lx+5.5).attr("y1",ly).attr("y2",ly).attr("stroke",it[1]).attr("stroke-width",1.3);
    svg.append("text").attr("x",lx+7).attr("y",ly+1.6).text(it[0]).attr("font-family",FONT).attr("font-size",4.5).attr("fill","#000");
  });
});
</script></body></html>
